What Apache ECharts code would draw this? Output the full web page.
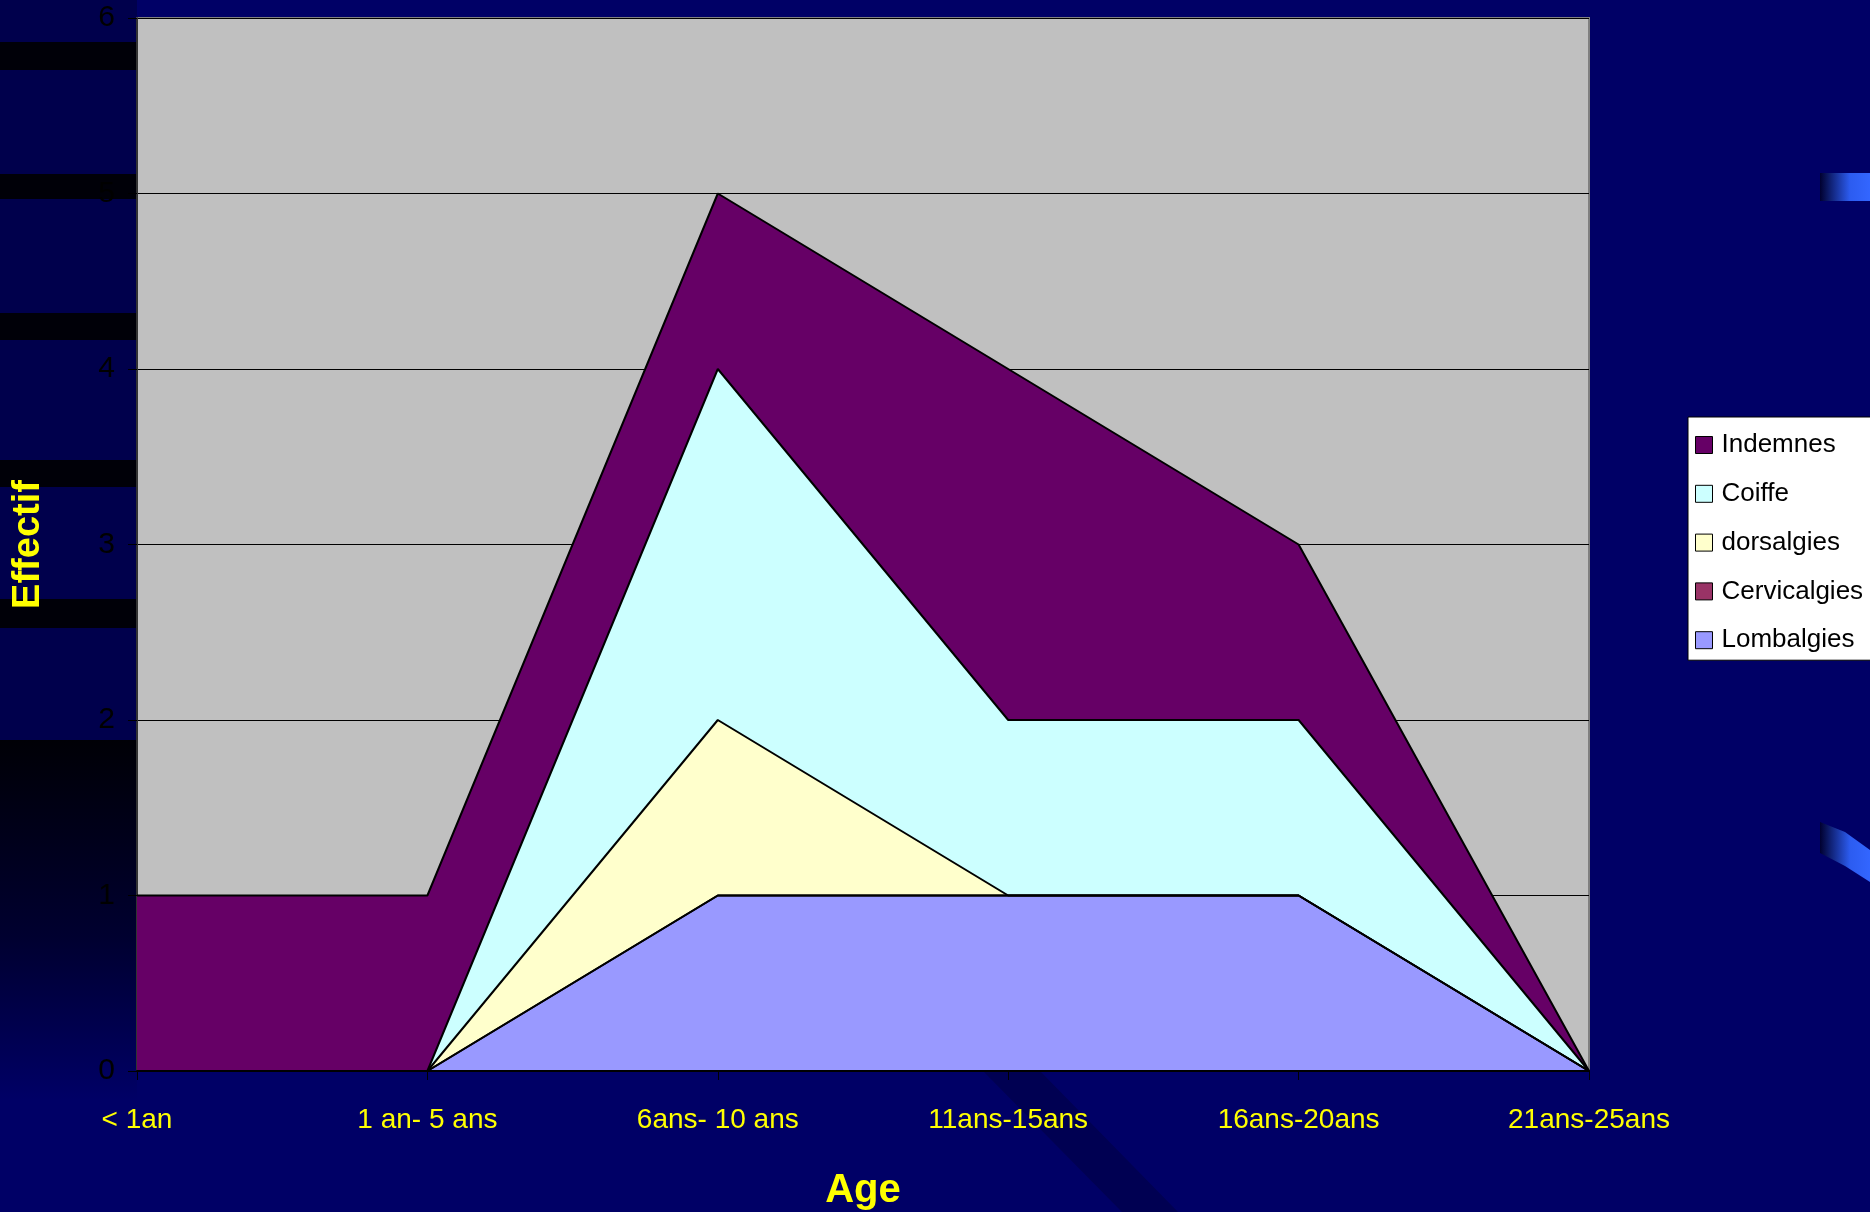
<!DOCTYPE html>
<html><head><meta charset="utf-8">
<script src="https://cdn.jsdelivr.net/npm/echarts@6/dist/echarts.min.js"></script>
<style>html,body{margin:0;padding:0;background:#000066;}#c{width:1870px;height:1212px;}</style>
</head><body><div id="c"></div>
<script>
const categories = ['< 1an', '1 an- 5 ans', '6ans- 10 ans', '11ans-15ans', '16ans-20ans', '21ans-25ans'];
const lombalgies = [0, 0, 1, 1, 1, 0];
const cervicalgies = [0, 0, 0, 0, 0, 0];
const dorsalgies = [0, 0, 1, 0, 0, 0];
const coiffe = [0, 0, 2, 1, 1, 0];
const indemnes = [1, 1, 1, 2, 1, 0];
const seriesNames = ['Lombalgies', 'Cervicalgies', 'dorsalgies', 'Coiffe', 'Indemnes'];
const seriesColors = ['#9999FF', '#993366', '#FFFFCC', '#CCFFFF', '#660066'];
const seriesData = [lombalgies, cervicalgies, dorsalgies, coiffe, indemnes];
const yMin = 0, yMax = 6, yStep = 1;

const NARROW = "'Liberation Sans Narrow', 'Arial Narrow', 'Liberation Sans', Arial, sans-serif";
const SANS = "'Liberation Sans', Arial, sans-serif";

const chart = echarts.init(document.getElementById('c'), null, {renderer: 'canvas'});

const series = seriesNames.map((n, i) => ({
  name: n,
  type: 'line',
  stack: 'total',
  data: seriesData[i],
  showSymbol: false,
  symbol: 'none',
  lineStyle: {color: '#000', width: 2},
  itemStyle: {color: seriesColors[i]},
  areaStyle: {color: seriesColors[i], opacity: 1},
  emphasis: {disabled: true},
  animation: false
}));

const legendData = seriesNames.slice().reverse().map(n => ({
  name: n,
  icon: 'rect',
  itemStyle: {color: seriesColors[seriesNames.indexOf(n)], borderColor: '#000', borderWidth: 1}
}));

const option = {
  backgroundColor: '#000066',
  animation: false,
  graphic: {
    elements: [
      {type: 'rect', z: -10, shape: {x: 0, y: 0, width: 137, height: 740}, style: {fill: '#00004C'}},
      {type: 'rect', z: -10, shape: {x: 0, y: 740, width: 137, height: 360},
        style: {fill: new echarts.graphic.LinearGradient(0, 0, 0, 1, [
          {offset: 0, color: '#000006'}, {offset: 0.55, color: '#000030'}, {offset: 1, color: '#000066'}])}},
      {type: 'rect', z: -9, shape: {x: 0, y: 42, width: 137, height: 28}, style: {fill: '#000008'}},
      {type: 'rect', z: -9, shape: {x: 0, y: 174, width: 137, height: 25}, style: {fill: '#000008'}},
      {type: 'rect', z: -9, shape: {x: 0, y: 313, width: 137, height: 27}, style: {fill: '#000008'}},
      {type: 'rect', z: -9, shape: {x: 0, y: 460, width: 137, height: 27}, style: {fill: '#000008'}},
      {type: 'rect', z: -9, shape: {x: 0, y: 599, width: 137, height: 29}, style: {fill: '#000008'}},
      {type: 'polygon', z: -9, shape: {points: [[983, 1071], [1040, 1071], [1178, 1212], [1122, 1212]]}, style: {fill: '#000052'}},
      {type: 'rect', z: -9, shape: {x: 1820, y: 173, width: 50, height: 28},
        style: {fill: new echarts.graphic.LinearGradient(0, 0, 1, 0, [
          {offset: 0, color: '#000030'}, {offset: 0.6, color: '#2C5CF0'}, {offset: 1, color: '#3366FF'}])}},
      {type: 'polygon', z: -9, shape: {points: [[1820, 822], [1845, 832], [1870, 850], [1870, 882], [1845, 866], [1820, 853]]},
        style: {fill: new echarts.graphic.LinearGradient(0, 0, 1, 0, [
          {offset: 0, color: '#000030'}, {offset: 0.6, color: '#2C5CF0'}, {offset: 1, color: '#3366FF'}])}}
    ]
  },
  grid: {
    left: 137, top: 18, width: 1452, height: 1053,
    show: true, backgroundColor: '#C0C0C0', borderColor: '#808080', borderWidth: 2,
    containLabel: false,
    outerBoundsMode: 'none'
  },
  legend: {
    orient: 'vertical',
    left: 1688, top: 417,
    data: legendData,
    backgroundColor: '#FFFFFF',
    borderColor: '#000',
    borderWidth: 1,
    padding: [13, 8, 5, 7],
    itemWidth: 17, itemHeight: 17,
    itemGap: 18.8,
    selectedMode: false,
    textStyle: {color: '#000', fontSize: 26, fontFamily: SANS, lineHeight: 30, padding: [0, 0, 0, 4]}
  },
  xAxis: {
    type: 'category',
    data: categories,
    boundaryGap: false,
    name: 'Age',
    nameLocation: 'middle',
    nameGap: 100,
    nameTextStyle: {color: '#FFFF00', fontSize: 40, fontWeight: 'bold', fontFamily: NARROW},
    axisLine: {show: true, lineStyle: {color: '#000', width: 2}},
    axisTick: {show: true, alignWithLabel: true, length: 9, lineStyle: {color: '#000', width: 1}},
    axisLabel: {color: '#FFFF00', fontSize: 28, fontFamily: NARROW, margin: 35, interval: 0},
    splitLine: {show: false},
    z: 10
  },
  yAxis: {
    type: 'value',
    min: yMin, max: yMax, interval: yStep,
    name: 'Effectif',
    nameLocation: 'middle',
    nameGap: 89,
    nameRotate: 90,
    nameTextStyle: {color: '#FFFF00', fontSize: 38, fontWeight: 'bold', fontFamily: SANS},
    axisLine: {show: true, lineStyle: {color: '#333', width: 2}},
    axisTick: {show: true, length: 9, lineStyle: {color: '#000', width: 1}},
    axisLabel: {color: '#000', fontSize: 30, fontFamily: NARROW, margin: 22},
    splitLine: {show: true, lineStyle: {color: '#000', width: 1}}
  },
  series: series
};
chart.setOption(option);
</script>
</body></html>
